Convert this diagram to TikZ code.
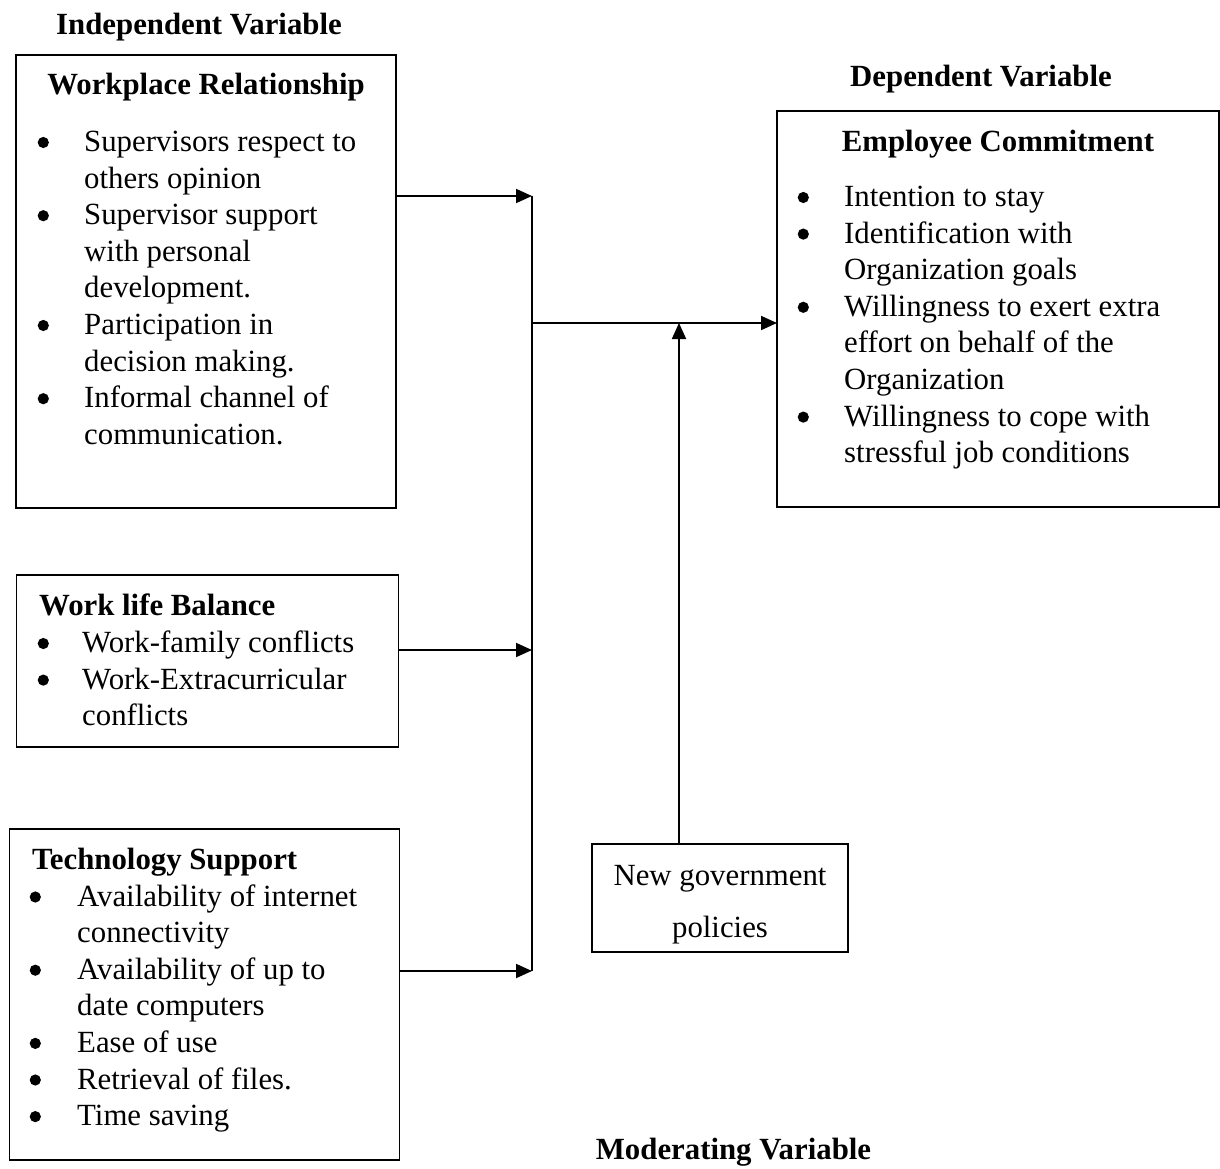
\documentclass[tikz,border=0pt]{standalone}
\usepackage{fontspec}
\setmainfont{Liberation Serif}
\usetikzlibrary{arrows.meta}
\newcommand{\bodysize}{\fontsize{30.8}{36.6}\selectfont}
\newcommand{\dotitem}[1]{\makebox[#1][l]{\tikz[baseline=0pt]\fill (5.8pt,9pt) circle (5.6pt);}}
\tikzset{
  varbox/.style={draw, line width=1.8pt, inner sep=0pt, outer sep=0pt, anchor=north west},
  boxhead/.style={font=\bodysize\bfseries, inner sep=0pt},
  varlabel/.style={font=\bodysize\bfseries, inner sep=0pt, anchor=base},
  itemlist/.style={font=\bodysize, inner sep=0pt, anchor=base west},
  link/.style={line width=1.8pt},
  flow/.style={link, -{Triangle[length=16pt,width=14pt]}}
}
\begin{document}
\begin{tikzpicture}[x=1pt,y=-1pt]
    \useasboundingbox (0,0) rectangle (1220,1169);
    %% Variable labels
    \node[varlabel] (indep) at (199,35) {Independent Variable};
    \node[varlabel] (dep) at (981,87) {Dependent Variable};
    \node[varlabel] (moder) at (733.5,1159) {Moderating Variable};
    %% Boxes
    \node[varbox, minimum width=380pt, minimum height=453pt] (wr) at (16,55) {};
    \node[varbox, minimum width=382pt, minimum height=172pt] (wl) at (16.5,575) {};
    \node[varbox, minimum width=390pt, minimum height=331pt] (ts) at (9.5,829) {};
    \node[varbox, minimum width=442pt, minimum height=396pt] (ec) at (777,111) {};
    \node[varbox, minimum width=256pt, minimum height=108pt, font=\bodysize, align=center] (ng) at (592,844)
        {\rule{0pt}{33pt}New government\\[15.4pt]policies};
    %% Box contents
    \node[boxhead, anchor=base] (wrh) at (206,95) {Workplace Relationship};
    \node[itemlist] (wrl) at (37.5,151.5) {\begin{tabular}[t]{@{}l@{}l@{}}
        \dotitem{46.5pt} & Supervisors respect to\\
        & others opinion\\
        \dotitem{46.5pt} & Supervisor support\\
        & with personal\\
        & development.\\
        \dotitem{46.5pt} & Participation in\\
        & decision making.\\
        \dotitem{46.5pt} & Informal channel of\\
        & communication.
    \end{tabular}};
    \node[boxhead, anchor=base west] (wlh) at (39,615) {Work life Balance};
    \node[itemlist] (wll) at (37.5,652.5) {\begin{tabular}[t]{@{}l@{}l@{}}
        \dotitem{44.5pt} & Work-family conflicts\\
        \dotitem{44.5pt} & Work-Extracurricular\\
        & conflicts
    \end{tabular}};
    \node[boxhead, anchor=base west] (tsh) at (32,869) {Technology Support};
    \node[itemlist] (tsl) at (29.5,906) {\begin{tabular}[t]{@{}l@{}l@{}}
        \dotitem{47.5pt} & Availability of internet\\
        & connectivity\\
        \dotitem{47.5pt} & Availability of up to\\
        & date computers\\
        \dotitem{47.5pt} & Ease of use\\
        \dotitem{47.5pt} & Retrieval of files.\\
        \dotitem{47.5pt} & Time saving
    \end{tabular}};
    \node[boxhead, anchor=base] (ech) at (998,152) {Employee Commitment};
    \node[itemlist] (ecl) at (797.5,206.5) {\begin{tabular}[t]{@{}l@{}l@{}}
        \dotitem{46.5pt} & Intention to stay\\
        \dotitem{46.5pt} & Identification with\\
        & Organization goals\\
        \dotitem{46.5pt} & Willingness to exert extra\\
        & effort on behalf of the\\
        & Organization\\
        \dotitem{46.5pt} & Willingness to cope with\\
        & stressful job conditions
    \end{tabular}};
    %% Connectors
    \coordinate (jt) at (532,196);
    \coordinate (jm) at (532,650);
    \coordinate (jb) at (532,971);
    \coordinate (jc) at (532,323);
    \coordinate (mp) at (679,323);
    \draw[link] (jt) -- (jb);
    \draw[flow] (wr.east |- jt) -- (jt);
    \draw[flow] (wl.east |- jm) -- (jm);
    \draw[flow] (ts.east |- jb) -- (jb);
    \draw[flow] (jc) -- (ec.west |- jc);
    \draw[flow] (ng.north -| mp) -- (mp);
\end{tikzpicture}
\end{document}
